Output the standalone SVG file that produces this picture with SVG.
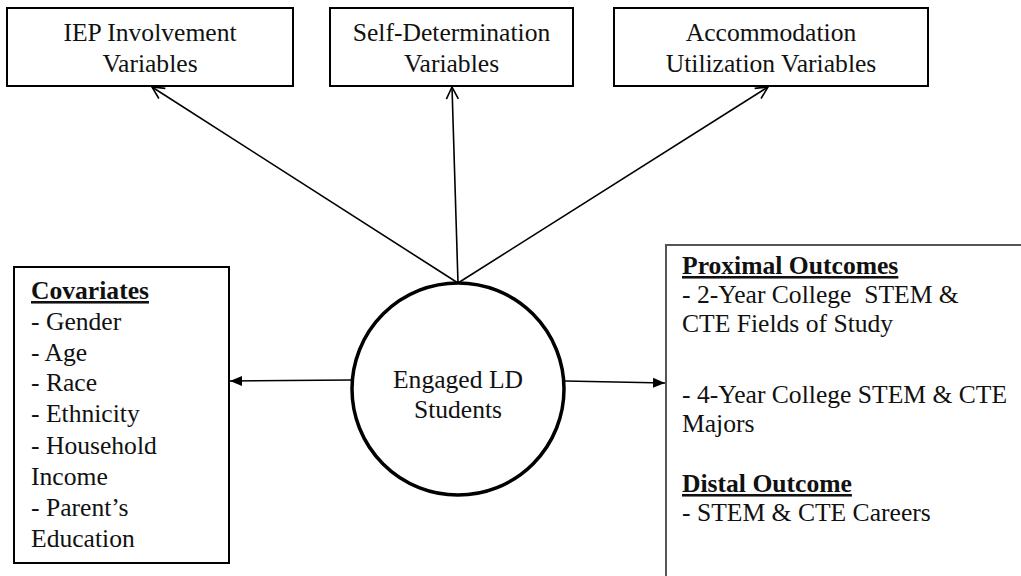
<svg xmlns="http://www.w3.org/2000/svg" width="1021" height="576" viewBox="0 0 1021 576">
<style>
  .box { fill: #fff; stroke: #000; stroke-width: 2; }
  .t { font-family: 'Liberation Serif', 'Times New Roman', Times, 'DejaVu Serif', serif; font-size: 25.6px; fill: #111; }
  .c { text-anchor: middle; }
  .h { font-weight: bold; text-decoration: underline; }
  .conn { stroke: #000; stroke-width: 1.6; fill: none; }
</style>
<defs>
  <marker id="open" markerUnits="userSpaceOnUse" markerWidth="16" markerHeight="16" refX="13" refY="8" orient="auto">
    <path d="M1,2 L13,8 L1,14" fill="none" stroke="#000" stroke-width="1.6"/>
  </marker>
  <marker id="solid" markerUnits="userSpaceOnUse" markerWidth="14" markerHeight="12" refX="12" refY="6" orient="auto">
    <path d="M0,1 L12,6 L0,11 Z" fill="#000"/>
  </marker>
</defs>
<rect width="1021" height="576" fill="#fff"/>

<g id="connectors">
  <line class="conn" x1="458" y1="283" x2="152" y2="87" marker-end="url(#open)"/>
  <line class="conn" x1="458" y1="283" x2="452" y2="87" marker-end="url(#open)"/>
  <line class="conn" x1="458" y1="283" x2="768" y2="87" marker-end="url(#open)"/>
  <line class="conn" x1="352" y1="380" x2="230" y2="381" marker-end="url(#solid)"/>
  <line class="conn" x1="565" y1="381" x2="665" y2="383" marker-end="url(#solid)"/>
</g>

<g id="iep">
  <rect class="box" x="7" y="8" width="286" height="78"/>
  <text class="t c" x="150" y="41" font-family="Liberation Serif, serif">IEP Involvement</text>
  <text class="t c" x="150" y="72">Variables</text>
</g>

<g id="selfdet">
  <rect class="box" x="330" y="8" width="243" height="78"/>
  <text class="t c" x="451.5" y="41">Self-Determination</text>
  <text class="t c" x="451.5" y="72">Variables</text>
</g>

<g id="accommodation">
  <rect class="box" x="614" y="8" width="314" height="78"/>
  <text class="t c" x="771" y="41">Accommodation</text>
  <text class="t c" x="771" y="72">Utilization Variables</text>
</g>

<g id="engaged">
  <circle cx="458" cy="389" r="106" fill="#fff" stroke="#000" stroke-width="3.5"/>
  <text class="t c" x="458" y="388">Engaged LD</text>
  <text class="t c" x="458" y="418">Students</text>
</g>

<g id="covariates">
  <rect class="box" x="14" y="267" width="215" height="296"/>
  <text class="t h" x="31" y="299">Covariates</text>
  <text class="t" x="31" y="330">- Gender</text>
  <text class="t" x="31" y="361">- Age</text>
  <text class="t" x="31" y="391">- Race</text>
  <text class="t" x="31" y="422">- Ethnicity</text>
  <text class="t" x="31" y="454">- Household</text>
  <text class="t" x="31" y="485">Income</text>
  <text class="t" x="31" y="516">- Parent’s</text>
  <text class="t" x="31" y="547">Education</text>
</g>

<g id="outcomes">
  <path d="M666,577 L666,245 L1022,245" fill="#fff" stroke="#555" stroke-width="2"/>
  <text class="t h" x="682" y="274">Proximal Outcomes</text>
  <text class="t" x="682" y="303" xml:space="preserve">- 2-Year College  STEM &amp;</text>
  <text class="t" x="682" y="332">CTE Fields of Study</text>
  <text class="t" x="682" y="403">- 4-Year College STEM &amp; CTE</text>
  <text class="t" x="682" y="432">Majors</text>
  <text class="t h" x="682" y="492">Distal Outcome</text>
  <text class="t" x="682" y="521">- STEM &amp; CTE Careers</text>
</g>
</svg>
